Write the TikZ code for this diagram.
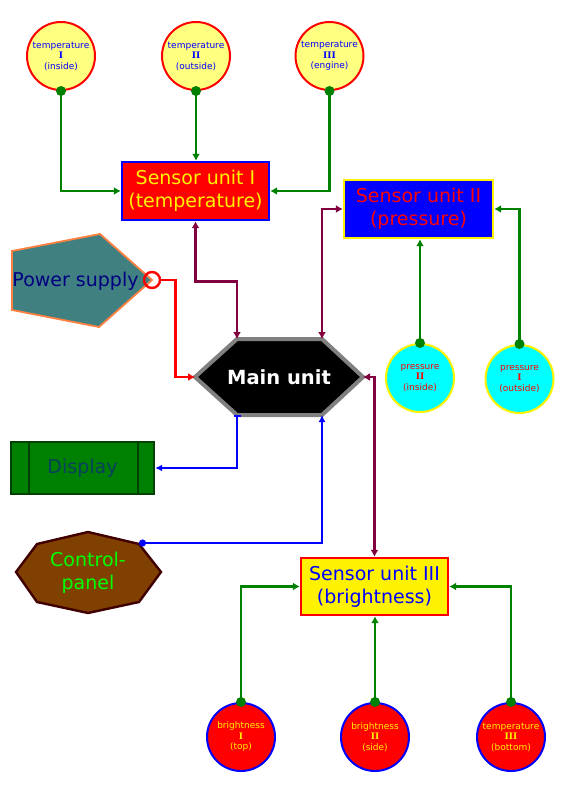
\documentclass[tikz,border=0pt]{standalone}
\usepackage{fontspec}
\setmainfont{DejaVu Sans}
\newfontfamily\numfont{DejaVu Serif}
\usetikzlibrary{arrows.meta}
\definecolor{lgreen}{HTML}{008000}
\definecolor{maroonline}{HTML}{800040}
\definecolor{lightyel}{HTML}{FFFF80}
\definecolor{aqua}{HTML}{00FFFF}
\definecolor{psfill}{HTML}{408080}
\definecolor{psborder}{HTML}{FF8040}
\definecolor{navytext}{HTML}{000080}
\definecolor{dispfill}{HTML}{008000}
\definecolor{dispborder}{HTML}{004000}
\definecolor{disptext}{HTML}{0A4060}
\definecolor{cpfill}{HTML}{804000}
\definecolor{cpborder}{HTML}{400000}
\definecolor{cptext}{HTML}{00FF00}
\definecolor{hexborder}{HTML}{808080}
\newcommand{\rn}[1]{{\numfont\bfseries #1}}
\tikzset{
  sensorcirc/.style={circle, minimum size=68pt, inner sep=0pt, line width=2pt,
    font=\fontsize{9}{10.5}\selectfont, align=center},
  unitbox/.style={rectangle, inner sep=0pt, line width=2.4pt,
    font=\fontsize{19}{23}\selectfont, align=center},
  bigtext/.style={font=\fontsize{19}{23}\selectfont, align=center, inner sep=0pt},
  gline/.style={draw=lgreen, line width=2.2pt, -{Latex[length=7pt,width=8pt]}},
  mline/.style={draw=maroonline, line width=2.8pt, {Latex[length=7pt,width=8pt]}-{Latex[length=7pt,width=8pt]}},
  gdot/.style={fill=lgreen},
}
\begin{document}
\begin{tikzpicture}[x=1pt,y=-1pt]
\useasboundingbox (0,0) rectangle (562,795);

% top temperature sensors
\node[sensorcirc, draw=red, fill=lightyel, text=blue] (t1) at (61,56) {temperature\\\rn{I}\\(inside)};
\node[sensorcirc, draw=red, fill=lightyel, text=blue] (t2) at (196,56) {temperature\\\rn{II}\\(outside)};
\node[sensorcirc, draw=red, fill=lightyel, text=blue] (t3) at (329.5,56) {temperature\\\rn{III}\\(engine)};

% sensor units
\node[unitbox, draw=blue, fill=red, text=yellow, minimum width=147pt, minimum height=58pt] (s1) at (195.5,191) {Sensor unit I\\(temperature)};
\node[unitbox, draw=yellow, fill=blue, text=red, minimum width=149pt, minimum height=58pt] (s2) at (418.5,209) {Sensor unit II\\(pressure)};
\node[unitbox, draw=red, fill=yellow, text=blue, minimum width=147pt, minimum height=57pt] (s3) at (374.5,586.5) {Sensor unit III\\(brightness)};

% pressure sensors
\node[sensorcirc, draw=yellow, fill=aqua, text=red] (p2) at (420,378) {pressure\\\rn{II}\\(inside)};
\node[sensorcirc, draw=yellow, fill=aqua, text=red] (p1) at (519.5,379) {pressure\\\rn{I}\\(outside)};

% bottom sensors
\node[sensorcirc, draw=blue, fill=red, text=yellow] (b1) at (241,737) {brightness\\\rn{I}\\(top)};
\node[sensorcirc, draw=blue, fill=red, text=yellow] (b2) at (375,737) {brightness\\\rn{II}\\(side)};
\node[sensorcirc, draw=blue, fill=red, text=yellow] (b3) at (511,737) {temperature\\\rn{III}\\(bottom)};

% main unit hexagon
\draw[draw=hexborder, fill=black, line width=4pt, line join=miter]
  (195,377) -- (237,339) -- (322,339) -- (363,377) -- (322,415) -- (237,415) -- cycle;
\node[font=\fontsize{19.5}{23}\selectfont\bfseries, text=white, inner sep=0pt] (main) at (279,377) {Main unit};
\coordinate (mainL) at (195,377);
\coordinate (mainR) at (363,377);
\coordinate (mainTL) at (237,339);
\coordinate (mainTR) at (322,339);
\coordinate (mainBL) at (237,415);
\coordinate (mainBR) at (322,415);

% power supply
\draw[draw=psborder, fill=psfill, line width=1.8pt]
  (12,251) -- (100,234) -- (152,280) -- (99,327) -- (12,310) -- cycle;
\node[bigtext, text=navytext] (ps) at (75.5,281) {Power supply};
\node[circle, draw=red, line width=2.4pt, minimum size=16pt, inner sep=0pt] (psc) at (152,280) {};

% display
\node[rectangle, draw=dispborder, fill=dispfill, line width=2.4pt, minimum width=143pt, minimum height=52pt,
  inner sep=0pt, font=\fontsize{19}{23}\selectfont, text=disptext] (disp) at (82.5,468) {Display};
\draw[dispborder, line width=2.4pt] ([xshift=19pt]disp.north west) -- ([xshift=19pt]disp.south west);
\draw[dispborder, line width=2.4pt] ([xshift=-17pt]disp.north east) -- ([xshift=-17pt]disp.south east);

% control panel
\draw[draw=cpborder, fill=cpfill, line width=2.4pt]
  (16,572) -- (37,544) -- (88,532) -- (139,544) -- (161,572) -- (139,602) -- (88,613) -- (37,602) -- cycle;
\node[bigtext, text=cptext] (cp) at (88,573) {Control-\\panel};
\coordinate (cpNE) at (139,543);

% green connectors
\draw[gline] (t1.south) |- (s1.west);
\draw[gline] (t2.south) -- (t2.south |- s1.north);
\draw[gline] (t3.south) |- (s1.east);
\draw[gline] (p2.north) -- (p2.north |- s2.south);
\draw[gline] (p1.north) |- (s2.east);
\draw[gline] (b1.north) |- (s3.west);
\draw[gline] (b2.north) -- (b2.north |- s3.south);
\draw[gline] (b3.north) |- (s3.east);
\foreach \n in {t1,t2,t3} \fill[gdot] (\n.south) circle (5pt);
\foreach \n in {p1,p2,b1,b2,b3} \fill[gdot] (\n.north) circle (5pt);

% maroon connectors
\draw[mline] (s1.south) -- ++(0,60) -| (mainTL);
\draw[mline] (s2.west) -| (mainTR);
\draw[mline] (mainR) -| (s3.north);

% red connector
\draw[red, line width=2.6pt, -{Latex[length=7pt,width=8pt]}] (psc.east) -- ++(14,0) |- (mainL);

% blue connectors
\draw[blue, line width=2pt, {Bar[width=7pt,line width=2pt]}-{Latex[length=7pt,width=7pt]}] (mainBL) |- (disp.east);
\draw[blue, line width=2pt, {Circle[length=7pt]}-{Latex[length=7pt,width=7pt]}] (cpNE) -| (mainBR);
\end{tikzpicture}
\end{document}
